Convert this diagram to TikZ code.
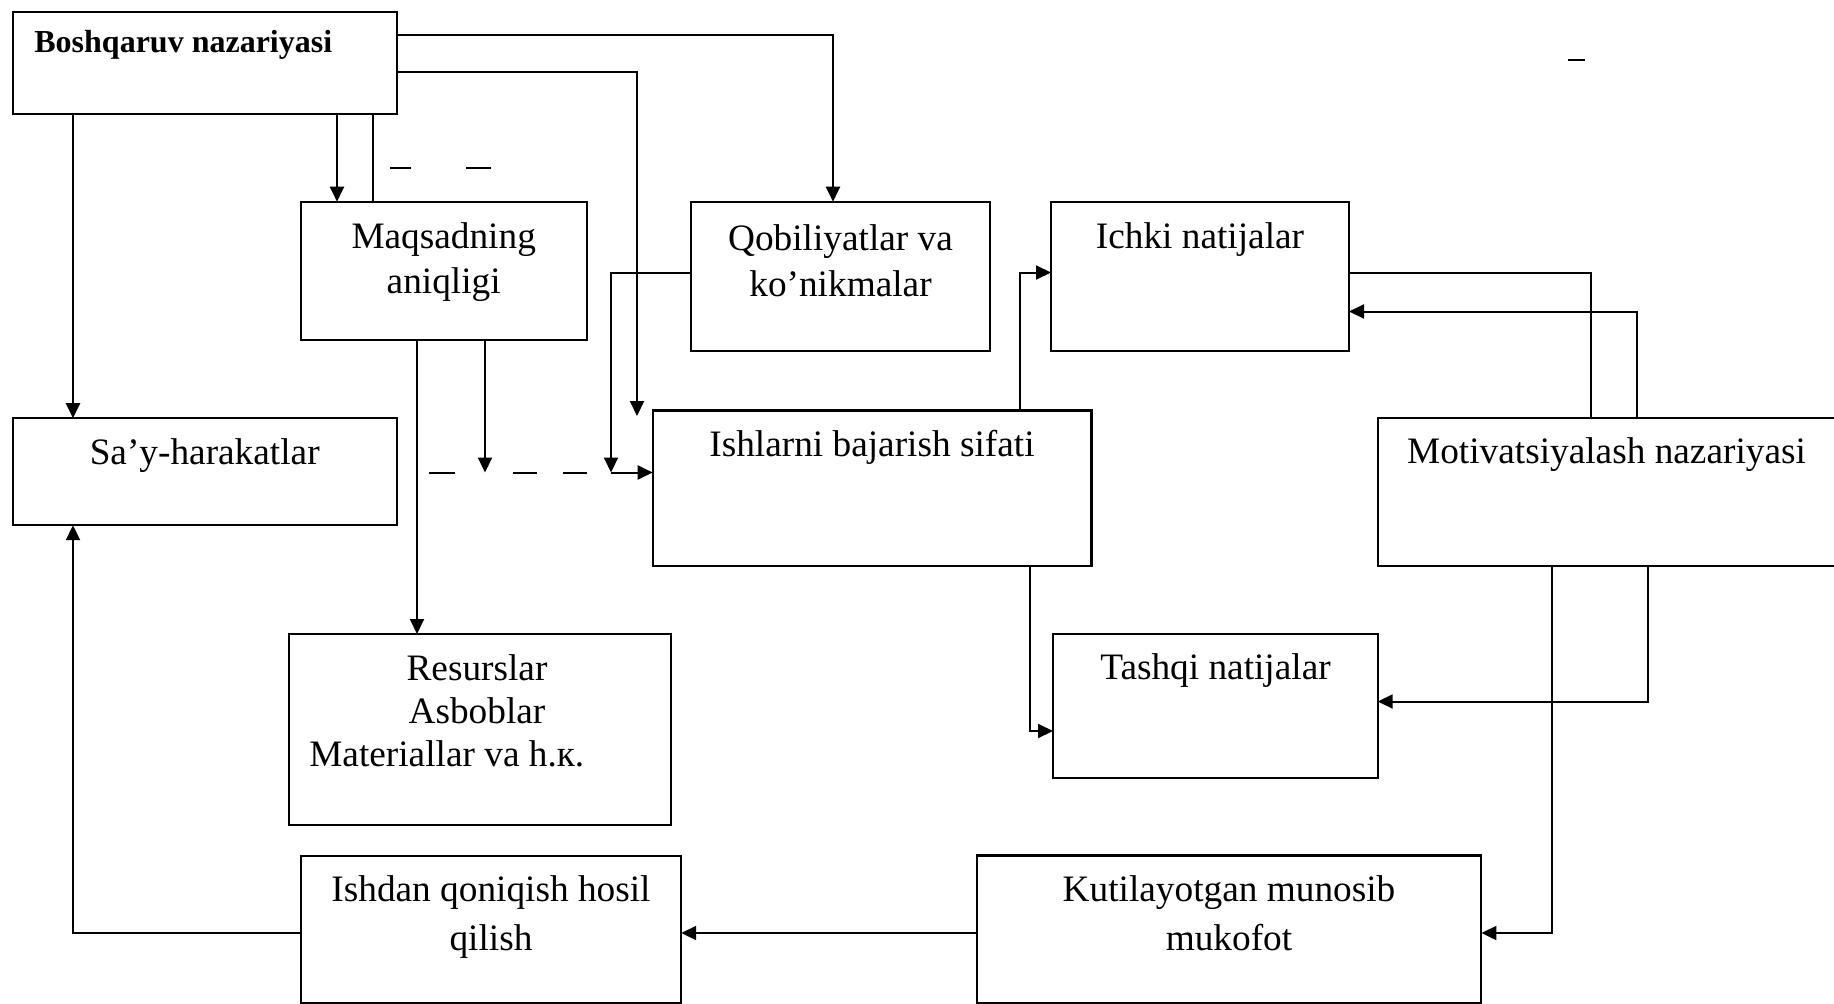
\documentclass[tikz,border=0pt]{standalone}
\usepackage{fontspec}
\setmainfont{Liberation Serif}
\usetikzlibrary{arrows.meta}
\begin{document}
\begin{tikzpicture}[x=1pt,y=-1pt,
  box/.style={draw, line width=2.1pt, inner sep=0pt, outer sep=0pt, anchor=north west},
  txt/.style={inner sep=0pt, outer sep=0pt, anchor=base, font=\fontsize{37.3}{44}\selectfont},
  headtxt/.style={inner sep=0pt, outer sep=0pt, anchor=base west, font=\fontsize{32}{38}\selectfont\bfseries},
  conn/.style={line width=2pt},
  arr/.style={conn, -{Triangle[length=15pt,width=14pt]}},
  stroke/.style={line width=2.2pt},
]
\useasboundingbox (0,0) rectangle (1834,1004);
\fill[white] (0,0) rectangle (1834,1004);
\clip (0,0) rectangle (1834,1004);

% ---------- boxes ----------
\node[box, minimum width=384.1pt, minimum height=101.7pt] (bosh)  at (12.6,12.3)   {};
\node[box, minimum width=285.9pt, minimum height=138.3pt] (maq)   at (300.8,201.7)  {};
\node[box, minimum width=299pt,   minimum height=149pt]   (qob)   at (691,201.7)    {};
\node[box, minimum width=298pt,   minimum height=149pt]   (ichki) at (1051,201.7)   {};
\node[box, minimum width=384.1pt, minimum height=107pt]   (say)   at (12.6,418.2)   {};
\node[box, minimum width=438.8pt, minimum height=155.5pt] (ish)   at (652.7,410.5)  {};
\node[box, minimum width=470pt,   minimum height=148pt]   (mot)   at (1377.7,418)   {};
\node[box, minimum width=324.7pt, minimum height=144pt]   (tash)  at (1053,634)     {};
\node[box, minimum width=381.5pt, minimum height=191pt]   (res)   at (289.3,634)    {};
\node[box, minimum width=380.4pt, minimum height=147.5pt] (qon)   at (300.8,855.7)  {};
\node[box, minimum width=504.6pt, minimum height=147.7pt] (kut)   at (976.8,855.5)  {};

% ---------- texts ----------
\node[headtxt] (tbosh) at (34.4,52) {Boshqaruv nazariyasi};
\node[txt] (tmaqa) at (443.7,248) {Maqsadning};
\node[txt] (tmaqb) at (443.7,293.5) {aniqligi};
\node[txt] (tqoba) at (840.5,250.5) {Qobiliyatlar va};
\node[txt] (tqobb) at (840.5,296.5) {ko’nikmalar};
\node[txt] (tichki) at (1200,248.3) {Ichki natijalar};
\node[txt] (tsay) at (204.7,464.2) {Sa’y-harakatlar};
\node[txt] (tish) at (872,456.5) {Ishlarni bajarish sifati};
\node[txt] (tmot) at (1606.5,463.6) {Motivatsiyalash nazariyasi};
\node[txt] (ttash) at (1215.5,679) {Tashqi natijalar};
\node[txt] (tresa) at (477,680) {Resurslar};
\node[txt] (tresb) at (477,723.3) {Asboblar};
\node[txt, anchor=base west] (tresc) at (309.3,766.7) {Materiallar va h.к.};
\node[txt] (tqona) at (491,901) {Ishdan qoniqish hosil};
\node[txt] (tqonb) at (491,950) {qilish};
\node[txt] (tkuta) at (1229,901) {Kutilayotgan munosib};
\node[txt] (tkutb) at (1229,950) {mukofot};

% ---------- guide coordinates for connector routes ----------
\coordinate (xa) at (73,0);
\coordinate (xb) at (337,0);
\coordinate (xc) at (373,0);
\coordinate (xd) at (833,0);
\coordinate (ye) at (0,35);
\coordinate (yf) at (0,71.7);
\coordinate (ef) at (637,416);
\coordinate (yg) at (0,272.5);
\coordinate (g1) at (611,472.5);
\coordinate (xh) at (485,0);
\coordinate (h1) at (485,472.5);
\coordinate (xi) at (417,0);
\coordinate (d0) at (429,472.7);
\coordinate (d1) at (587,472.7);
\coordinate (xj) at (1019.5,0);
\coordinate (xk) at (1591,0);
\coordinate (xl) at (1637,0);
\coordinate (yl) at (0,311.5);
\coordinate (xm) at (1029.5,0);
\coordinate (ym) at (0,731);
\coordinate (xn) at (1648,0);
\coordinate (yn) at (0,701.5);
\coordinate (xo) at (1551.5,0);
\coordinate (yo) at (0,933);

% ---------- connectors ----------
\draw[arr]  (bosh.south -| xa) -- (say.north -| xa);
\draw[arr]  (bosh.south -| xb) -- (maq.north -| xb);
\draw[conn] (bosh.south -| xc) -- (maq.north -| xc);
\draw[arr]  (bosh.east |- ye) -| (qob.north -| xd);
\draw[arr]  (bosh.east |- yf) -| (ef);
\draw[arr]  (qob.west |- yg) -| (g1);
\draw[arr]  (g1) -- (ish.west |- g1);
\draw[arr]  (maq.south -| xh) -- (h1);
\draw[arr]  (maq.south -| xi) -- (res.north -| xi);
\draw[conn, dash pattern=on 26pt off 58pt on 24pt off 26pt] (d0) -- (d1);
\draw[arr]  (ish.north -| xj) |- (ichki.west |- yg);
\draw[conn] (ichki.east |- yg) -| (mot.north -| xk);
\draw[arr]  (mot.north -| xl) |- (ichki.east |- yl);
\draw[arr]  (ish.south -| xm) |- (tash.west |- ym);
\draw[arr]  (mot.south -| xn) |- (tash.east |- yn);
\draw[arr]  (mot.south -| xo) |- (kut.east |- yo);
\draw[arr]  (kut.west |- yo) -- (qon.east |- yo);
\draw[arr]  (qon.west |- yo) -| (say.south -| xa);

% ---------- stray short strokes ----------
\draw[stroke] (390,167.7) -- (410.7,167.7);
\draw[stroke] (466,167.7) -- (490.7,167.7);
\draw[stroke] (1568,60.3) -- (1585,60.3);
\end{tikzpicture}
\end{document}
